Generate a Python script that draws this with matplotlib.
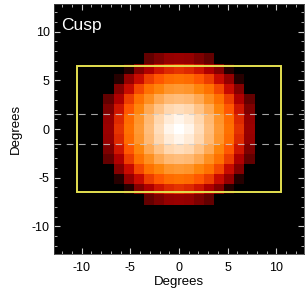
import numpy as np
import matplotlib
matplotlib.use("Agg")
import matplotlib.pyplot as plt
from matplotlib.ticker import MultipleLocator
from matplotlib.patches import Rectangle

# Cell intensities (0-100) of the "Cusp" emission map, rows from top (y=+7) to bottom (y=-7),
# columns from left (x=-7) to right (x=+7)
intensity_rows = [
    [0, 0, 0, 0, 26, 33, 39, 40, 39, 33, 26, 0, 0, 0, 0],
    [0, 0, 10, 35, 46, 54, 58, 60, 58, 54, 46, 35, 10, 0, 0],
    [0, 10, 39, 52, 62, 67, 71, 72, 71, 67, 62, 52, 39, 10, 0],
    [0, 35, 52, 64, 72, 76, 79, 80, 79, 76, 72, 64, 52, 35, 0],
    [26, 46, 62, 72, 78, 83, 86, 87, 86, 83, 78, 72, 62, 46, 26],
    [33, 54, 67, 76, 83, 88, 92, 93, 92, 88, 83, 76, 67, 54, 33],
    [39, 58, 71, 79, 86, 92, 96, 98, 96, 92, 86, 79, 71, 58, 39],
    [40, 60, 72, 80, 87, 93, 98, 100, 98, 93, 87, 80, 72, 60, 40],
    [39, 58, 71, 79, 86, 92, 96, 98, 96, 92, 86, 79, 71, 58, 39],
    [33, 54, 67, 76, 83, 88, 92, 93, 92, 88, 83, 76, 67, 54, 33],
    [26, 46, 62, 72, 78, 83, 86, 87, 86, 83, 78, 72, 62, 46, 26],
    [0, 35, 52, 64, 72, 76, 79, 80, 79, 76, 72, 64, 52, 35, 0],
    [0, 10, 39, 52, 62, 67, 71, 72, 71, 67, 62, 52, 39, 10, 0],
    [0, 0, 10, 35, 46, 54, 58, 60, 58, 54, 46, 35, 10, 0, 0],
    [0, 0, 0, 0, 26, 33, 39, 40, 39, 33, 26, 0, 0, 0, 0],
]
cell_size = 1.035           # degrees per map cell
box_half_width = 10.45      # field-of-view box, degrees
box_half_height = 6.5
dash_levels = [1.5, -1.5]   # dashed reference lines, degrees
tick_values = [-10, -5, 0, 5, 10]
tick_labels = ["-10", "-5", "0", "5", "10"]
panel_label = "Cusp"
axis_label = "Degrees"

plt.rcParams['font.family'] = ['Liberation Sans', 'DejaVu Sans']

data = np.array(intensity_rows, dtype=float)[::-1]  # row 0 -> bottom
n = data.shape[0]
edges = (np.arange(n + 1) - n / 2.0) * cell_size

fig = plt.figure(figsize=(3.08, 2.97), dpi=100)
ax = fig.add_axes([54/308, 1 - 254/297, 250/308, 250/297])
ax.set_facecolor('black')
ax.pcolormesh(edges, edges, data, cmap='gist_heat', vmin=0, vmax=100, shading='flat')

ax.add_patch(Rectangle((-box_half_width, -box_half_height), 2*box_half_width, 2*box_half_height,
                       fill=False, edgecolor='#e4e050', linewidth=1.4, zorder=4))
for yv in dash_levels:
    ax.axhline(yv, color='#d0d0d0', linewidth=0.8, dashes=(6, 5), alpha=0.8, zorder=3)

ax.text(0.03, 0.945, panel_label, transform=ax.transAxes, color='white', fontsize=12.5,
        ha='left', va='top')

ax.set_xlim(-12.85, 12.85)
ax.set_ylim(-12.85, 12.85)
ax.set_xticks(tick_values)
ax.set_xticklabels(tick_labels)
ax.set_yticks(tick_values)
ax.set_yticklabels(tick_labels)
ax.xaxis.set_minor_locator(MultipleLocator(1))
ax.yaxis.set_minor_locator(MultipleLocator(1))
ax.tick_params(which='both', direction='in', color='#cccccc', top=True, right=True,
               labelsize=9)
ax.tick_params(which='major', length=4.5, width=0.8)
ax.tick_params(which='minor', length=2.2, width=0.6)
ax.tick_params(axis='x', pad=6)
ax.tick_params(axis='y', pad=3)
for s in ax.spines.values():
    s.set_color('#444444')
    s.set_linewidth(0.6)

ax.set_xlabel(axis_label, fontsize=9.5, labelpad=1)
ax.set_ylabel(axis_label, fontsize=9.5, labelpad=7)

fig.savefig('out.png', dpi=100, facecolor='white')
